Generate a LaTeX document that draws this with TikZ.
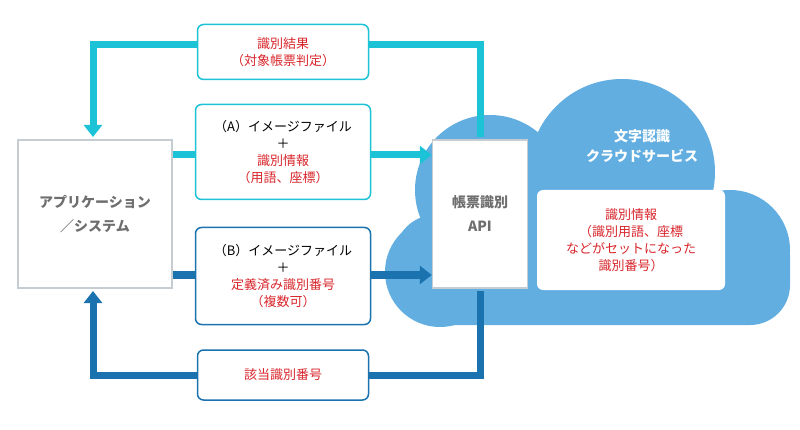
\documentclass[tikz,border=0pt]{standalone}
\usepackage{fontspec}
\setmainfont{Noto Sans CJK JP}
\usetikzlibrary{arrows.meta}
\definecolor{cyanA}{HTML}{1CC3D6}
\definecolor{blueB}{HTML}{1A72AE}
\definecolor{cloud}{HTML}{62AEE0}
\definecolor{redt}{HTML}{D8262C}
\definecolor{grayt}{HTML}{6E6E6E}
\definecolor{grayb}{HTML}{C5CDD3}
\begin{document}
\begin{tikzpicture}[x=1pt,y=-1pt,
  lbl/.style={draw,line width=1.5pt,rounded corners=6pt,fill=white,align=center,font=\fontsize{13}{17}\selectfont,inner sep=0pt},
  sys/.style={draw=grayb,line width=1.5pt,fill=white,align=center,text=grayt,font=\bfseries\fontsize{14}{24}\selectfont,inner sep=0pt},
  flow/.style={line width=7pt},
  tip/.style={-{Triangle[length=12pt,width=18pt]}}]
\useasboundingbox (0,0) rectangle (800,430);
% cloud
\fill[cloud] (490,190) circle[radius=75] (622,172) circle[radius=93] (730,250) circle[radius=60]
  (440,272) circle[radius=55];
\fill[cloud,rounded corners=40pt] (395,215) rectangle (790,325);
\node[text=white,font=\bfseries\fontsize{14}{20}\selectfont,align=center] (cs) at (642,146) {文字認識\\クラウドサービス};
\node[draw=none,fill=white,rounded corners=6pt,minimum width=188pt,minimum height=100pt,text=redt,align=center,font=\fontsize{13}{17}\selectfont] (info) at (631,240) {識別情報\\（識別用語、座標\\などがセットになった\\識別番号）};
% systems
\node[sys,minimum width=154pt,minimum height=148pt] (app) at (95,214) {アプリケーション\\／システム};
\node[sys,minimum width=95pt,minimum height=148pt] (api) at (480,214) {帳票識別\\API};
% top loop
\coordinate (t1) at (480,45); \coordinate (t2) at (93,45);
\draw[flow,cyanA] (480,137) -- (t1) -- (t2) -- (93,120);
\draw[flow,cyanA,tip] (93,110) -- (93,137);
% bottom loop
\coordinate (b1) at (480,375); \coordinate (b2) at (93,375);
\draw[flow,blueB] (480,291) -- (b1) -- (b2) -- (93,305);
\draw[flow,blueB,tip] (93,315) -- (93,291);
% horizontal arrows
\draw[flow,cyanA,tip] (app.east|-0,155) -- (api.west|-0,155);
\draw[flow,blueB,tip] (app.east|-0,275) -- (api.west|-0,275);
% labels
\node[lbl,draw=cyanA,minimum width=171pt,minimum height=55pt,text=redt] (l1) at (283,52) {識別結果\\（対象帳票判定）};
\node[lbl,draw=cyanA,minimum width=175pt,minimum height=95pt] (l2) at (283,152) {（A）イメージファイル\\＋\\\textcolor{redt}{識別情報}\\\textcolor{redt}{（用語、座標）}};
\node[lbl,draw=blueB,minimum width=175pt,minimum height=97pt] (l3) at (283,276) {（B）イメージファイル\\＋\\\textcolor{redt}{定義済み識別番号}\\\textcolor{redt}{（複数可）}};
\node[lbl,draw=blueB,minimum width=171pt,minimum height=50pt,text=redt] (l4) at (283,375) {該当識別番号};
\end{tikzpicture}
\end{document}
